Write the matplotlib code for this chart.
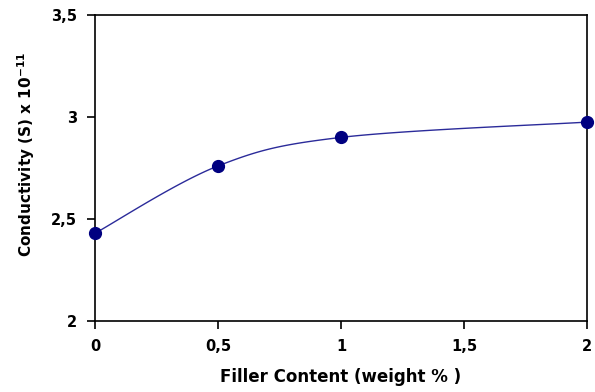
import numpy as np
import matplotlib
matplotlib.use("Agg")
import matplotlib.pyplot as plt
from matplotlib.ticker import FixedLocator, FuncFormatter

filler = [0, 0.5, 1, 2]
conductivity = [2.43, 2.76, 2.90, 2.975]
xticks = [0, 0.5, 1, 1.5, 2]
yticks = [2, 2.5, 3, 3.5]

plt.rcParams['font.family'] = ['DejaVu Sans']
plt.rcParams['mathtext.fontset'] = 'dejavusans'

fig = plt.figure(figsize=(5.95, 3.92), dpi=100)
ax = fig.add_axes([95/595, 1-321/392, (587-95)/595, (321-15)/392])
ax.set_xlim(0, 2)
ax.set_ylim(2, 3.5)

# Excel-like smoothed line (Catmull-Rom Bezier in normalized space)
x = np.array(filler, float); y = np.array(conductivity, float)
sx, sy = 2.0, 1.5
px = np.concatenate([[x[0]], x, [x[-1]]]) / sx
py = np.concatenate([[y[0]], y, [y[-1]]]) / sy
cx, cy = [], []
t = np.linspace(0, 1, 40)
for i in range(1, len(px) - 2):
    p0 = np.array([px[i], py[i]]); p3 = np.array([px[i+1], py[i+1]])
    p1 = p0 + (np.array([px[i+1], py[i+1]]) - np.array([px[i-1], py[i-1]])) / 6
    p2 = p3 - (np.array([px[i+2], py[i+2]]) - np.array([px[i], py[i]])) / 6
    b = ((1-t)**3)[:, None]*p0 + (3*(1-t)**2*t)[:, None]*p1 + (3*(1-t)*t**2)[:, None]*p2 + (t**3)[:, None]*p3
    cx.extend(b[:, 0]*sx); cy.extend(b[:, 1]*sy)
ax.plot(cx, cy, color='#2b2b9a', lw=1.0, zorder=2, clip_on=False)
ax.plot(x, y, 'o', color='#000080', ms=8.5, zorder=3, clip_on=False)

ax.xaxis.set_major_locator(FixedLocator(xticks))
ax.yaxis.set_major_locator(FixedLocator(yticks))
fmt = FuncFormatter(lambda v, p: ('%g' % v).replace('.', ','))
ax.xaxis.set_major_formatter(fmt)
ax.yaxis.set_major_formatter(fmt)
ax.tick_params(direction='out', length=6, width=1.2, labelsize=10.5)
ax.tick_params(axis='x', pad=7)
ax.tick_params(axis='y', pad=7)
for lab in ax.get_xticklabels() + ax.get_yticklabels():
    lab.set_fontweight('bold')
for s in ax.spines.values():
    s.set_linewidth(1.2)

ax.set_xlabel('Filler Content (weight % )', fontsize=12, fontweight='bold', labelpad=10)
ax.set_ylabel(r'Conductivity (S) x 10$^{\mathbf{-11}}$', fontsize=11, fontweight='bold', labelpad=10)
ax.yaxis.set_label_coords(-0.118, 0.546)

fig.savefig('out.png', dpi=100)
